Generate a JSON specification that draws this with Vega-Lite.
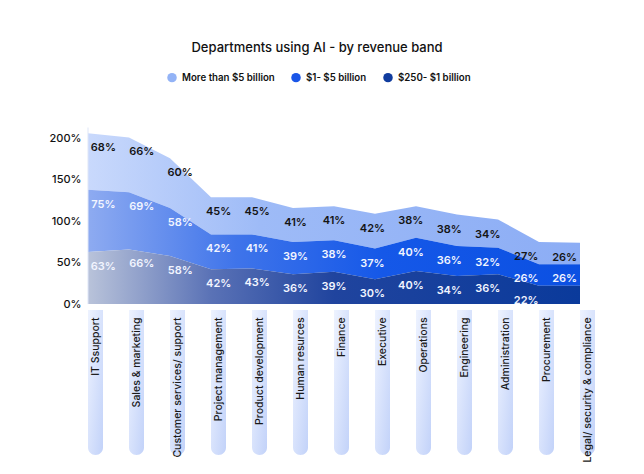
{
  "$schema": "https://vega.github.io/schema/vega-lite/v6.json",
  "autosize": {"type": "none"},
  "width": 492,
  "height": 325,
  "padding": {"left": 88, "top": 130, "right": 64, "bottom": 19},
  "background": "white",
  "title": {
    "text": "Departments using AI - by revenue band",
    "font": "Inter",
    "fontSize": 13,
    "fontWeight": 500,
    "color": "#111111",
    "anchor": "middle",
    "frame": "group",
    "dx": -17,
    "offset": 18
  },
  "config": {"view": {"stroke": null}, "font": "Inter"},
  "data": {
    "values": [
      {"dept": "IT Ssupport", "band": "$250- $1 billion", "value": 63},
      {"dept": "IT Ssupport", "band": "$1- $5 billion", "value": 75},
      {"dept": "IT Ssupport", "band": "More than $5 billion", "value": 68},
      {"dept": "Sales & marketing", "band": "$250- $1 billion", "value": 66},
      {"dept": "Sales & marketing", "band": "$1- $5 billion", "value": 69},
      {"dept": "Sales & marketing", "band": "More than $5 billion", "value": 66},
      {"dept": "Customer services/ support", "band": "$250- $1 billion", "value": 58},
      {"dept": "Customer services/ support", "band": "$1- $5 billion", "value": 58},
      {"dept": "Customer services/ support", "band": "More than $5 billion", "value": 60},
      {"dept": "Project management", "band": "$250- $1 billion", "value": 42},
      {"dept": "Project management", "band": "$1- $5 billion", "value": 42},
      {"dept": "Project management", "band": "More than $5 billion", "value": 45},
      {"dept": "Product development", "band": "$250- $1 billion", "value": 43},
      {"dept": "Product development", "band": "$1- $5 billion", "value": 41},
      {"dept": "Product development", "band": "More than $5 billion", "value": 45},
      {"dept": "Human resurces", "band": "$250- $1 billion", "value": 36},
      {"dept": "Human resurces", "band": "$1- $5 billion", "value": 39},
      {"dept": "Human resurces", "band": "More than $5 billion", "value": 41},
      {"dept": "Finance", "band": "$250- $1 billion", "value": 39},
      {"dept": "Finance", "band": "$1- $5 billion", "value": 38},
      {"dept": "Finance", "band": "More than $5 billion", "value": 41},
      {"dept": "Executive", "band": "$250- $1 billion", "value": 30},
      {"dept": "Executive", "band": "$1- $5 billion", "value": 37},
      {"dept": "Executive", "band": "More than $5 billion", "value": 42},
      {"dept": "Operations", "band": "$250- $1 billion", "value": 40},
      {"dept": "Operations", "band": "$1- $5 billion", "value": 40},
      {"dept": "Operations", "band": "More than $5 billion", "value": 38},
      {"dept": "Engineering", "band": "$250- $1 billion", "value": 34},
      {"dept": "Engineering", "band": "$1- $5 billion", "value": 36},
      {"dept": "Engineering", "band": "More than $5 billion", "value": 38},
      {"dept": "Administration", "band": "$250- $1 billion", "value": 36},
      {"dept": "Administration", "band": "$1- $5 billion", "value": 32},
      {"dept": "Administration", "band": "More than $5 billion", "value": 34},
      {"dept": "Procurement", "band": "$250- $1 billion", "value": 22},
      {"dept": "Procurement", "band": "$1- $5 billion", "value": 26},
      {"dept": "Procurement", "band": "More than $5 billion", "value": 27},
      {"dept": "Legal/ security & compliance", "band": "$250- $1 billion", "value": 22},
      {"dept": "Legal/ security & compliance", "band": "$1- $5 billion", "value": 26},
      {"dept": "Legal/ security & compliance", "band": "More than $5 billion", "value": 26}
    ]
  },
  "transform": [
    {"calculate": "indexof(['$250- $1 billion', '$1- $5 billion', 'More than $5 billion'], datum.band)", "as": "bandOrder"},
    {"stack": "value", "groupby": ["dept"], "sort": [{"field": "bandOrder", "order": "ascending"}], "as": ["y0", "y1"]},
    {"calculate": "datum.value + '%'", "as": "label"}
  ],
  "layer": [
    {
      "encoding": {
        "x": {
          "field": "dept", "type": "nominal", "axis": null,
          "scale": {"type": "point", "padding": 0, "domain": ["IT Ssupport", "Sales & marketing", "Customer services/ support", "Project management", "Product development", "Human resurces", "Finance", "Executive", "Operations", "Engineering", "Administration", "Procurement", "Legal/ security & compliance"]}
        }
      },
      "layer": [
        {
          "transform": [{"filter": "datum.bandOrder == 2"}],
          "mark": {
            "type": "area", "opacity": 1,
            "fill": {"gradient": "linear", "x1": 0, "y1": 0, "x2": 1, "y2": 0, "stops": [{"offset": 0, "color": "#c9d9fc"}, {"offset": 0.35, "color": "#9ebbf7"}, {"offset": 1, "color": "#8cadf5"}]}
          },
          "encoding": {
            "y": {
              "field": "y1", "type": "quantitative", "stack": null,
              "scale": {"domain": [-182, 210], "nice": false, "zero": false},
              "axis": {
                "values": [0, 50, 100, 150, 200],
                "labelExpr": "datum.value + '%'",
                "domain": false, "ticks": false, "grid": false, "title": null,
                "labelFont": "Inter", "labelFontSize": 11, "labelFontWeight": 500,
                "labelColor": "#111111", "labelPadding": 7
              }
            },
            "y2": {"field": "y0"}
          }
        },
        {
          "transform": [{"filter": "datum.bandOrder == 1"}],
          "mark": {
            "type": "area", "opacity": 1,
            "fill": {"gradient": "linear", "x1": 0, "y1": 0, "x2": 1, "y2": 0, "stops": [{"offset": 0, "color": "#8eabf1"}, {"offset": 0.3, "color": "#3f74ea"}, {"offset": 0.6, "color": "#1558e8"}, {"offset": 1, "color": "#0b50e2"}]}
          },
          "encoding": {
            "y": {"field": "y1", "type": "quantitative", "stack": null},
            "y2": {"field": "y0"}
          }
        },
        {
          "transform": [{"filter": "datum.bandOrder == 0"}],
          "mark": {
            "type": "area", "opacity": 1,
            "fill": {"gradient": "linear", "x1": 0, "y1": 0, "x2": 1, "y2": 0, "stops": [{"offset": 0, "color": "#b9c3da"}, {"offset": 0.25, "color": "#5a72b6"}, {"offset": 0.5, "color": "#20449e"}, {"offset": 1, "color": "#0a3a9b"}]}
          },
          "encoding": {
            "y": {"field": "y1", "type": "quantitative", "stack": null},
            "y2": {"field": "y0"}
          }
        },
        {
          "mark": {"type": "point", "filled": true, "opacity": 0},
          "encoding": {
            "y": {"field": "y1", "type": "quantitative"},
            "color": {
              "field": "band", "type": "nominal",
              "scale": {
                "domain": ["More than $5 billion", "$1- $5 billion", "$250- $1 billion"],
                "range": ["#93b3f6", "#1a56e8", "#103c9e"]
              },
              "legend": {
                "orient": "none", "legendX": 79, "legendY": -57.5,
                "direction": "horizontal", "title": null,
                "symbolType": "circle", "symbolSize": 90, "symbolStrokeWidth": 0, "symbolOpacity": 1,
                "labelFont": "Inter", "labelFontSize": 9.7, "labelFontWeight": 600,
                "labelColor": "#111111", "columnPadding": 16, "labelOffset": 5, "padding": 0
              }
            }
          }
        },
        {
          "transform": [{"filter": "datum.dept == 'IT Ssupport' && datum.bandOrder == 0"}],
          "mark": {"type": "rule", "color": "#dfe6f7", "strokeWidth": 1},
          "encoding": {
            "y": {"datum": 0, "type": "quantitative"},
            "y2": {"datum": 213}
          }
        },
        {
          "transform": [{"filter": "datum.bandOrder == 0"}],
          "mark": {
            "type": "bar", "width": 15, "xOffset": 7.5,
            "cornerRadiusBottomLeft": 7.5, "cornerRadiusBottomRight": 7.5,
            "color": {"gradient": "linear", "x1": 0, "y1": 0, "x2": 1, "y2": 1, "stops": [{"offset": 0, "color": "#eef3ff"}, {"offset": 1, "color": "#c2d2f9"}]}
          },
          "encoding": {
            "y": {"datum": -7, "type": "quantitative"},
            "y2": {"datum": -182}
          }
        },
        {
          "transform": [{"filter": "datum.bandOrder == 0"}],
          "mark": {
            "type": "text", "angle": 270, "align": "right", "baseline": "middle",
            "xOffset": 7.5, "font": "Inter", "fontSize": 10.5, "fontWeight": 500, "color": "#1a1a1a"
          },
          "encoding": {
            "y": {"datum": -16, "type": "quantitative"},
            "text": {"field": "dept"}
          }
        }
      ]
    },
    {
      "transform": [{"filter": "!(datum.dept == 'Legal/ security & compliance' && datum.bandOrder == 0)"}],
      "mark": {"type": "text", "align": "center", "baseline": "middle", "dy": 15, "font": "Inter", "fontSize": 11, "fontWeight": 600},
      "encoding": {
        "x": {
          "field": "dept", "type": "nominal", "axis": null,
          "scale": {"type": "point", "padding": 0.4, "domain": ["IT Ssupport", "Sales & marketing", "Customer services/ support", "Project management", "Product development", "Human resurces", "Finance", "Executive", "Operations", "Engineering", "Administration", "Procurement", "Legal/ security & compliance"]}
        },
        "y": {"field": "y1", "type": "quantitative"},
        "text": {"field": "label"},
        "color": {"condition": {"test": "datum.bandOrder == 2", "value": "#141414"}, "value": "#f2f5ff"}
      }
    }
  ],
  "resolve": {"scale": {"x": "independent"}}
}
